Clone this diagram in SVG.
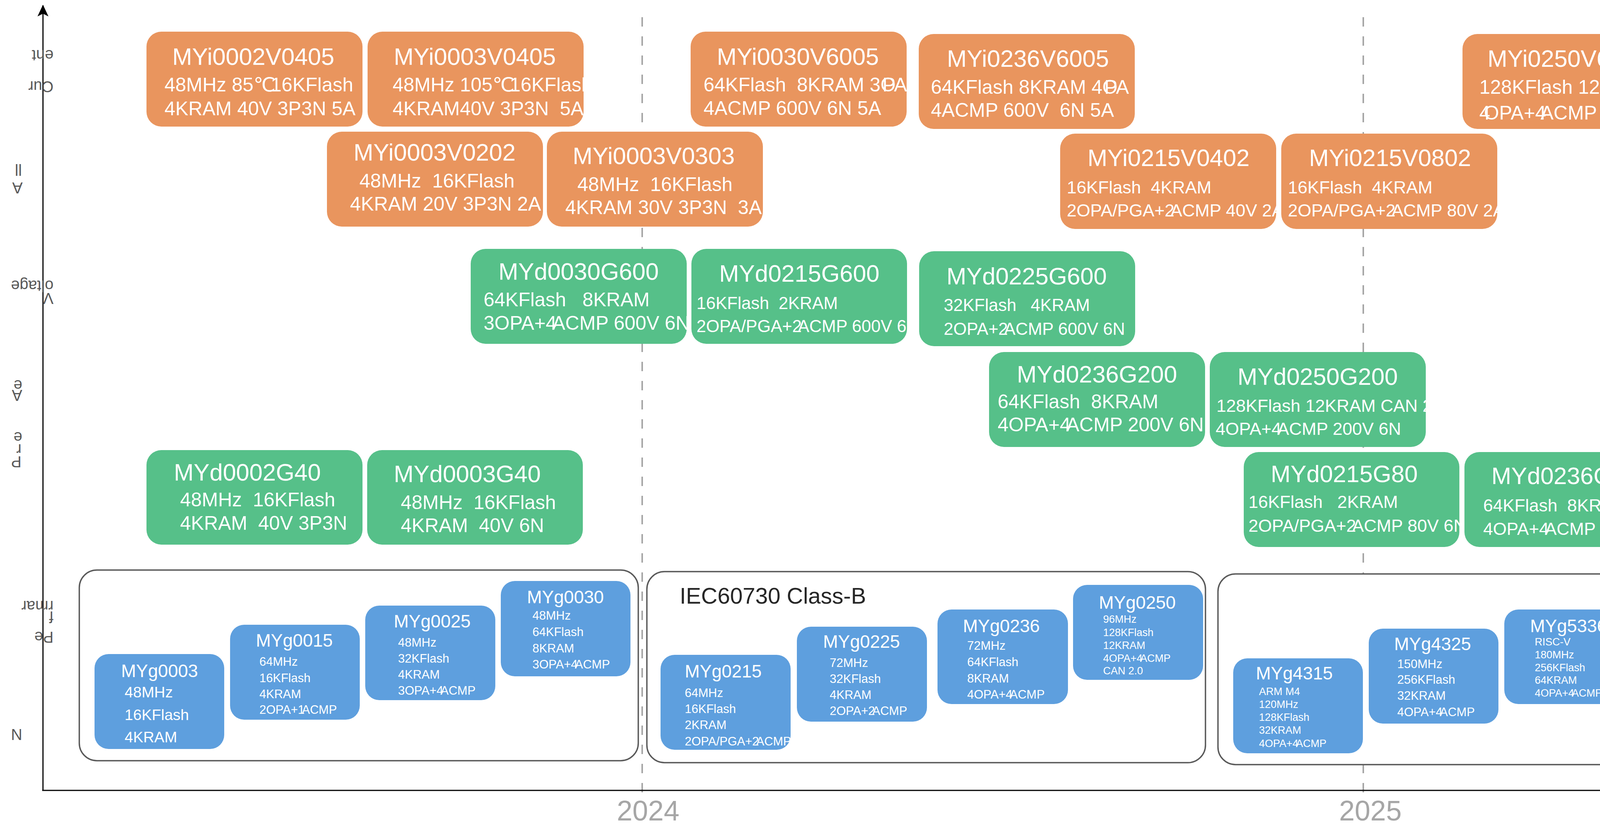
<svg xmlns="http://www.w3.org/2000/svg" width="4588" height="2109" viewBox="0 0 4588 2109" xml:space="preserve">
<defs>
<style>
text{font-family:"Liberation Sans",Arial,"DejaVu Sans","Noto Sans CJK SC",sans-serif;white-space:pre;}
.o{fill:#E9955E;}
.g{fill:#56C089;}
.b{fill:#5E9FDE;}
.t{fill:#FFFFFF;font-size:61px;}
.tb{fill:#FFFFFF;font-size:46px;}
.l{fill:#FFFFFF;}
.cont{fill:#FFFFFF;stroke:#595959;stroke-width:3.5;}
.ax{fill:#595959;font-size:40px;}
.yr{fill:#A6A6A6;font-size:72px;}
.dash{stroke:#A6A6A6;stroke-width:4;stroke-dasharray:24 25;fill:none;}
.axis{stroke:#000000;stroke-width:3;fill:none;}
</style>
<marker id="arr" markerUnits="userSpaceOnUse" markerWidth="30" markerHeight="30" viewBox="0 0 30 30" refX="28" refY="15" orient="auto">
<path d="M0,1 L30,15 L0,29 L7,15 Z" fill="#000000"/>
</marker>
</defs>
<rect x="0" y="0" width="4588" height="2109" fill="#FFFFFF"/>

<g id="connectors">
<line class="dash" x1="1644" y1="44" x2="1644" y2="2035"/>
<line class="dash" x1="3490" y1="44" x2="3490" y2="2035"/>
<line class="axis" x1="110" y1="2023" x2="110" y2="14" marker-end="url(#arr)"/>
<line class="axis" x1="108" y1="2023" x2="4566" y2="2023" marker-end="url(#arr)"/>
</g>

<g id="axis-labels">
<text class="ax" transform="translate(137,128) rotate(180)">ent</text>
<text class="ax" transform="translate(137,208) rotate(180)">Cur</text>
<text class="ax" transform="translate(56,420) rotate(180)">ll</text>
<text class="ax" transform="translate(58,467) rotate(180)">A</text>
<text class="ax" transform="translate(137,718) rotate(180)">oltage</text>
<text class="ax" transform="translate(137,750) rotate(180)">V</text>
<text class="ax" transform="translate(57,973) rotate(180)">e</text>
<text class="ax" transform="translate(57,998) rotate(180)">A</text>
<text class="ax" transform="translate(57,1106) rotate(180)">e</text>
<text class="ax" transform="translate(55,1137) rotate(180)">r</text>
<text class="ax" transform="translate(55,1168) rotate(180)">P</text>
<text class="ax" transform="translate(137,1538) rotate(180)">rmar</text>
<text class="ax" transform="translate(137,1565) rotate(180)">f</text>
<text class="ax" transform="translate(137,1617) rotate(180)">Pe</text>
<text class="ax" transform="translate(57,1866) rotate(180)">N</text>
</g>

<g id="years">
<text class="yr" x="1579" y="2100">2024</text>
<text class="yr" x="3428" y="2100">2025</text>
</g>

<g id="group-1"><rect class="cont" x="203" y="1459" width="1431" height="488" rx="45"/></g>
<g id="group-2"><rect class="cont" x="1656" y="1463" width="1430" height="489" rx="45"/>
<text x="1740" y="1545" style="font-size:58px;fill:#262626">IEC60730 Class-B</text></g>
<g id="group-3"><rect class="cont" x="3118" y="1469" width="1431" height="488" rx="45"/></g>

<g id="MYi0002V0405"><rect class="o" x="375" y="81" width="553" height="243" rx="38"/>
<text class="t" x="441" y="166">MYi0002V0405</text>
<text class="l" style="font-size:50px" x="421" y="234">48MHz 85<tspan letter-spacing="-12">℃</tspan>16KFlash</text>
<text class="l" style="font-size:50px" x="421" y="295">4KRAM 40V 3P3N 5A</text></g>

<g id="MYi0003V0405"><rect class="o" x="941" y="81" width="553" height="243" rx="38"/>
<text class="t" x="1008" y="166">MYi0003V0405</text>
<text class="l" style="font-size:50px" x="1005" y="234">48MHz 105<tspan letter-spacing="-12">℃</tspan>16KFlash</text>
<text class="l" style="font-size:50px" x="1005" y="295">4KRAM40V 3P3N  5A</text></g>

<g id="MYi0030V6005"><rect class="o" x="1768" y="81" width="553" height="243" rx="38"/>
<text class="t" x="1835" y="166">MYi0030V6005</text>
<text class="l" style="font-size:50px" x="1801" y="234">64KFlash  8KRAM 3<tspan letter-spacing="-34">O</tspan>PA</text>
<text class="l" style="font-size:50px" x="1801" y="294">4ACMP 600V 6N 5A</text></g>

<g id="MYi0236V6005"><rect class="o" x="2352" y="87" width="553" height="243" rx="38"/>
<text class="t" x="2424" y="171">MYi0236V6005</text>
<text class="l" style="font-size:50px" x="2383" y="240">64KFlash 8KRAM 4<tspan letter-spacing="-34">O</tspan>PA</text>
<text class="l" style="font-size:50px" x="2383" y="299">4ACMP 600V  6N 5A</text></g>

<g id="MYi0250V6010"><rect class="o" x="3744" y="87" width="553" height="243" rx="38"/>
<text class="t" x="3808" y="171">MYi0250V6010</text>
<text class="l" style="font-size:50px" x="3787" y="240">128KFlash 12KRAM  CAN 2.0</text>
<text class="l" style="font-size:50px" x="3787" y="306"><tspan letter-spacing="-16">4</tspan>OPA+<tspan letter-spacing="-14">4</tspan>ACMP  600V 6N 10A</text></g>

<g id="MYi0003V0202"><rect class="o" x="837" y="337" width="553" height="243" rx="38"/>
<text class="t" x="905" y="411">MYi0003V0202</text>
<text class="l" style="font-size:50px" x="920" y="480">48MHz  16KFlash</text>
<text class="l" style="font-size:50px" x="896" y="539">4KRAM 20V 3P3N 2A</text></g>

<g id="MYi0003V0303"><rect class="o" x="1400" y="337" width="553" height="243" rx="38"/>
<text class="t" x="1466" y="420">MYi0003V0303</text>
<text class="l" style="font-size:50px" x="1478" y="489">48MHz  16KFlash</text>
<text class="l" style="font-size:50px" x="1447" y="548">4KRAM 30V 3P3N  3A</text></g>

<g id="MYi0215V0402"><rect class="o" x="2714" y="342" width="553" height="244" rx="38"/>
<text class="t" x="2784" y="425">MYi0215V0402</text>
<text class="l" style="font-size:45px" x="2731" y="495">16KFlash  4KRAM</text>
<text class="l" style="font-size:45px" x="2731" y="554">2OPA/PGA+<tspan letter-spacing="-10">2</tspan>ACMP 40V 2A</text></g>

<g id="MYi0215V0802"><rect class="o" x="3280" y="342" width="553" height="244" rx="38"/>
<text class="t" x="3351" y="425">MYi0215V0802</text>
<text class="l" style="font-size:45px" x="3297" y="495">16KFlash  4KRAM</text>
<text class="l" style="font-size:45px" x="3297" y="554">2OPA/PGA+<tspan letter-spacing="-10">2</tspan>ACMP 80V 2A</text></g>

<g id="MYd0030G600"><rect class="g" x="1205" y="637" width="553" height="243" rx="38"/>
<text class="t" x="1276" y="716">MYd0030G600</text>
<text class="l" style="font-size:50px" x="1238" y="784">64KFlash   8KRAM</text>
<text class="l" style="font-size:50px" x="1238" y="844">3OPA+<tspan letter-spacing="-11">4</tspan>ACMP 600V 6N</text></g>

<g id="MYd0215G600"><rect class="g" x="1770" y="637" width="552" height="243" rx="38"/>
<text class="t" x="1841" y="721">MYd0215G600</text>
<text class="l" style="font-size:44px" x="1783" y="791">16KFlash  2KRAM</text>
<text class="l" style="font-size:44px" x="1783" y="850">2OPA/PGA+<tspan letter-spacing="-10">2</tspan>ACMP 600V 6N</text></g>

<g id="MYd0225G600"><rect class="g" x="2353" y="643" width="553" height="243" rx="38"/>
<text class="t" x="2423" y="728">MYd0225G600</text>
<text class="l" style="font-size:44px" x="2416" y="796">32KFlash   4KRAM</text>
<text class="l" style="font-size:44px" x="2416" y="857">2OPA+<tspan letter-spacing="-10">2</tspan>ACMP 600V 6N</text></g>

<g id="MYd0236G200"><rect class="g" x="2532" y="901" width="553" height="243" rx="38"/>
<text class="t" x="2603" y="979">MYd0236G200</text>
<text class="l" style="font-size:50px" x="2554" y="1045">64KFlash  8KRAM</text>
<text class="l" style="font-size:50px" x="2554" y="1104">4OPA+<tspan letter-spacing="-11">4</tspan>ACMP 200V 6N</text></g>

<g id="MYd0250G200"><rect class="g" x="3097" y="901" width="553" height="243" rx="38"/>
<text class="t" x="3168" y="985">MYd0250G200</text>
<text class="l" style="font-size:45px" x="3114" y="1054">128KFlash 12KRAM CAN 2.0</text>
<text class="l" style="font-size:45px" x="3112" y="1113">4OPA+<tspan letter-spacing="-10">4</tspan>ACMP 200V 6N</text></g>

<g id="MYd0002G40"><rect class="g" x="375" y="1152" width="553" height="242" rx="38"/>
<text class="t" x="445" y="1230">MYd0002G40</text>
<text class="l" style="font-size:50px" x="461" y="1296">48MHz  16KFlash</text>
<text class="l" style="font-size:50px" x="461" y="1356">4KRAM  40V 3P3N</text></g>

<g id="MYd0003G40"><rect class="g" x="940" y="1152" width="552" height="242" rx="38"/>
<text class="t" x="1008" y="1234">MYd0003G40</text>
<text class="l" style="font-size:50px" x="1026" y="1303">48MHz  16KFlash</text>
<text class="l" style="font-size:50px" x="1026" y="1362">4KRAM  40V 6N</text></g>

<g id="MYd0215G80"><rect class="g" x="3184" y="1157" width="552" height="243" rx="38"/>
<text class="t" x="3253" y="1234">MYd0215G80</text>
<text class="l" style="font-size:45px" x="3196" y="1300">16KFlash   2KRAM</text>
<text class="l" style="font-size:45px" x="3196" y="1361">2OPA/PGA+<tspan letter-spacing="-10">2</tspan>ACMP 80V 6N</text></g>

<g id="MYd0236G80"><rect class="g" x="3749" y="1157" width="552" height="243" rx="38"/>
<text class="t" x="3818" y="1239">MYd0236G80</text>
<text class="l" style="font-size:45px" x="3797" y="1309">64KFlash  8KRAM</text>
<text class="l" style="font-size:45px" x="3797" y="1369">4OPA+<tspan letter-spacing="-10">4</tspan>ACMP 80V 6N</text></g>

<g id="MYg0003"><rect class="b" x="242" y="1674" width="332" height="243" rx="36"/>
<text class="tb" x="310" y="1733">MYg0003</text>
<text class="l" style="font-size:39px" x="319" y="1785">48MHz</text>
<text class="l" style="font-size:39px" x="319" y="1843">16KFlash</text>
<text class="l" style="font-size:39px" x="319" y="1900">4KRAM</text></g>

<g id="MYg0015"><rect class="b" x="589" y="1599" width="332" height="243" rx="36"/>
<text class="tb" x="655" y="1655">MYg0015</text>
<text class="l" style="font-size:31px" x="664" y="1704">64MHz</text>
<text class="l" style="font-size:31px" x="664" y="1746">16KFlash</text>
<text class="l" style="font-size:31px" x="664" y="1787">4KRAM</text>
<text class="l" style="font-size:31px" x="664" y="1827">2OPA+<tspan letter-spacing="-7">1</tspan>ACMP</text></g>

<g id="MYg0025"><rect class="b" x="935" y="1550" width="333" height="242" rx="36"/>
<text class="tb" x="1008" y="1606">MYg0025</text>
<text class="l" style="font-size:31px" x="1019" y="1655">48MHz</text>
<text class="l" style="font-size:31px" x="1019" y="1696">32KFlash</text>
<text class="l" style="font-size:31px" x="1019" y="1737">4KRAM</text>
<text class="l" style="font-size:31px" x="1019" y="1778">3OPA+<tspan letter-spacing="-7">4</tspan>ACMP</text></g>

<g id="MYg0030"><rect class="b" x="1282" y="1487" width="332" height="244" rx="36"/>
<text class="tb" x="1349" y="1544">MYg0030</text>
<text class="l" style="font-size:31px" x="1363" y="1586">48MHz</text>
<text class="l" style="font-size:31px" x="1363" y="1628">64KFlash</text>
<text class="l" style="font-size:31px" x="1363" y="1670">8KRAM</text>
<text class="l" style="font-size:31px" x="1363" y="1711">3OPA+<tspan letter-spacing="-7">4</tspan>ACMP</text></g>

<g id="MYg0215"><rect class="b" x="1691" y="1676" width="333" height="243" rx="36"/>
<text class="tb" x="1753" y="1734">MYg0215</text>
<text class="l" style="font-size:31px" x="1753" y="1784">64MHz</text>
<text class="l" style="font-size:31px" x="1753" y="1825">16KFlash</text>
<text class="l" style="font-size:31px" x="1753" y="1866">2KRAM</text>
<text class="l" style="font-size:31px" x="1753" y="1908">2OPA/PGA+<tspan letter-spacing="-7">2</tspan>ACMP</text></g>

<g id="MYg0225"><rect class="b" x="2040" y="1604" width="333" height="243" rx="36"/>
<text class="tb" x="2107" y="1658">MYg0225</text>
<text class="l" style="font-size:31px" x="2124" y="1707">72MHz</text>
<text class="l" style="font-size:31px" x="2124" y="1748">32KFlash</text>
<text class="l" style="font-size:31px" x="2124" y="1789">4KRAM</text>
<text class="l" style="font-size:31px" x="2124" y="1830">2OPA+<tspan letter-spacing="-7">2</tspan>ACMP</text></g>

<g id="MYg0236"><rect class="b" x="2400" y="1560" width="334" height="242" rx="36"/>
<text class="tb" x="2465" y="1618">MYg0236</text>
<text class="l" style="font-size:31px" x="2476" y="1663">72MHz</text>
<text class="l" style="font-size:31px" x="2476" y="1705">64KFlash</text>
<text class="l" style="font-size:31px" x="2476" y="1747">8KRAM</text>
<text class="l" style="font-size:31px" x="2476" y="1788">4OPA+<tspan letter-spacing="-7">4</tspan>ACMP</text></g>

<g id="MYg0250"><rect class="b" x="2747" y="1497" width="333" height="243" rx="36"/>
<text class="tb" x="2813" y="1558">MYg0250</text>
<text class="l" style="font-size:27px" x="2824" y="1594">96MHz</text>
<text class="l" style="font-size:27px" x="2824" y="1628">128KFlash</text>
<text class="l" style="font-size:27px" x="2824" y="1661">12KRAM</text>
<text class="l" style="font-size:27px" x="2824" y="1694">4OPA+<tspan letter-spacing="-6">4</tspan>ACMP</text>
<text class="l" style="font-size:27px" x="2824" y="1726">CAN 2.0</text></g>

<g id="MYg4315"><rect class="b" x="3157" y="1685" width="332" height="243" rx="36"/>
<text class="tb" x="3215" y="1739">MYg4315</text>
<text class="l" style="font-size:27px" x="3223" y="1779">ARM M4</text>
<text class="l" style="font-size:27px" x="3223" y="1812">120MHz</text>
<text class="l" style="font-size:27px" x="3223" y="1845">128KFlash</text>
<text class="l" style="font-size:27px" x="3223" y="1878">32KRAM</text>
<text class="l" style="font-size:27px" x="3223" y="1912">4OPA+<tspan letter-spacing="-6">4</tspan>ACMP</text></g>

<g id="MYg4325"><rect class="b" x="3504" y="1609" width="332" height="243" rx="36"/>
<text class="tb" x="3569" y="1664">MYg4325</text>
<text class="l" style="font-size:31px" x="3577" y="1710">150MHz</text>
<text class="l" style="font-size:31px" x="3577" y="1750">256KFlash</text>
<text class="l" style="font-size:31px" x="3577" y="1791">32KRAM</text>
<text class="l" style="font-size:31px" x="3577" y="1833">4OPA+<tspan letter-spacing="-7">4</tspan>ACMP</text></g>

<g id="MYg5336"><rect class="b" x="3851" y="1560" width="332" height="242" rx="36"/>
<text class="tb" x="3917" y="1618">MYg5336</text>
<text class="l" style="font-size:27px" x="3929" y="1652">RISC-V</text>
<text class="l" style="font-size:27px" x="3929" y="1685">180MHz</text>
<text class="l" style="font-size:27px" x="3929" y="1718">256KFlash</text>
<text class="l" style="font-size:27px" x="3929" y="1750">64KRAM</text>
<text class="l" style="font-size:27px" x="3929" y="1783">4OPA+<tspan letter-spacing="-6">4</tspan>ACMP</text></g>

<g id="MYg5350"><rect class="b" x="4197" y="1497" width="333" height="243" rx="36"/>
<text class="tb" x="4274" y="1553">MYg5350</text>
<text class="l" style="font-size:27px" x="4287" y="1589">RISC-V</text>
<text class="l" style="font-size:27px" x="4287" y="1622">200MHz</text>
<text class="l" style="font-size:27px" x="4287" y="1655">512KFlash</text>
<text class="l" style="font-size:27px" x="4287" y="1688">64KRAM</text>
<text class="l" style="font-size:27px" x="4287" y="1721">4OPA+<tspan letter-spacing="-6">4</tspan>ACMP</text></g>

<g id="corner-mark"><circle cx="4499" cy="2121" r="16" fill="none" stroke="#4A5CBF" stroke-width="4"/></g>
</svg>
